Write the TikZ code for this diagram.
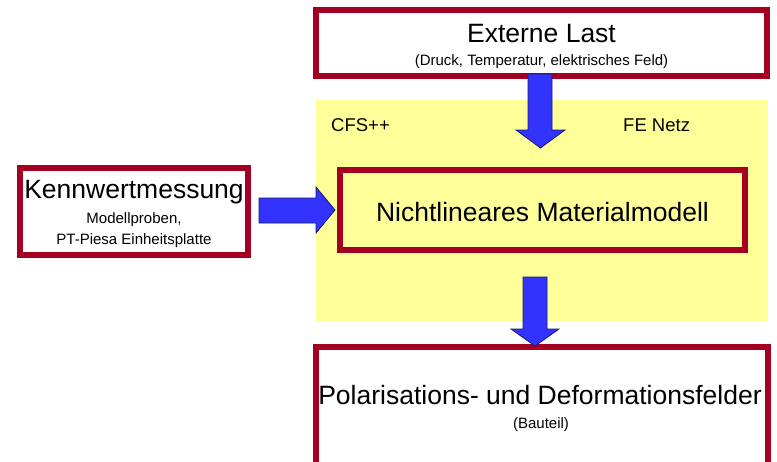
\documentclass[tikz,border=0pt]{standalone}
\usepackage{fontspec}
\setmainfont{Liberation Sans}
\definecolor{boxred}{HTML}{A50021}
\definecolor{paleyellow}{HTML}{FFFF99}
\definecolor{arrowblue}{HTML}{3333FF}
\definecolor{arrowedge}{HTML}{1A1A66}
\begin{document}
\begin{tikzpicture}[x=1pt,y=-1pt,
  redbox/.style={draw=boxred, line width=5.5pt, fill=white, inner sep=0pt, outer sep=0pt},
  bigtxt/.style={font=\fontsize{26.5}{30}\selectfont, inner sep=0pt, anchor=center},
  smalltxt/.style={font=\fontsize{15}{18}\selectfont, inner sep=0pt, anchor=center},
  midtxt/.style={font=\fontsize{18.5}{22}\selectfont, inner sep=0pt},
  blockarrow/.style={fill=arrowblue, draw=arrowedge, line width=0.8pt, line join=miter}]
\useasboundingbox (0,0) rectangle (777,461);
% yellow area
\fill[paleyellow] (316,100) rectangle (768,321);
\node[midtxt, anchor=west] (cfs) at (331,125) {CFS++};
\node[midtxt, anchor=west] (fe) at (623,125) {FE Netz};
% boxes
\node[redbox, minimum width=451pt, minimum height=66pt] (last) at (541.5,43) {};
\node[bigtxt] (lastt) at (541.5,34) {Externe Last};
\node[smalltxt] (lastd) at (541.5,62) {(Druck, Temperatur, elektrisches Feld)};
\node[redbox, minimum width=228pt, minimum height=87pt] (kenn) at (134,211.5) {};
\node[bigtxt] (kennt) at (134,192) {Kennwertmessung};
\node[smalltxt] (kennd1) at (134,220) {Modellproben,};
\node[smalltxt] (kennd2) at (134,241) {PT-Piesa Einheitsplatte};
\node[redbox, fill=none, minimum width=405pt, minimum height=80pt] (mat) at (542.5,210) {};
\node[bigtxt] (matt) at (542.5,212) {Nichtlineares Materialmodell};
\draw[redbox] (316,480) -- (316,347) -- (768,347) -- (768,480);
\coordinate (polc) at (540,395);
\node[bigtxt] (pol) at (polc) {Polarisations- und Deformationsfelder};
\node[smalltxt] (bau) at (541,425) {(Bauteil)};
% block arrows
\draw[blockarrow] (528,74) -- (552,74) -- (552,130) -- (565,130) -- (540.5,148) -- (516,130) -- (528,130) -- cycle;
\draw[blockarrow] (523,277) -- (547,277) -- (547,329) -- (559,329) -- (535,346) -- (511,329) -- (523,329) -- cycle;
\draw[blockarrow] (259,198) -- (316,198) -- (316,187) -- (335,210) -- (316,233) -- (316,223) -- (259,223) -- cycle;
\end{tikzpicture}
\end{document}
